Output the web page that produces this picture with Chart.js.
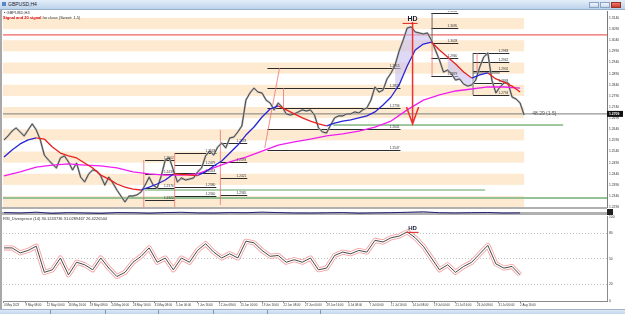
<!DOCTYPE html>
<html>
<head>
<meta charset="utf-8">
<title>GBPUSD,H4</title>
<script src="https://cdn.jsdelivr.net/npm/chart.js@4.4.1/dist/chart.umd.min.js"></script>
<style>
  html, body { margin: 0; padding: 0; }
  body { width: 625px; height: 314px; position: relative; overflow: hidden; background: #fff; font-family: "Liberation Sans", Arial, sans-serif; }
  canvas { position: absolute; left: 0; }
  #titlebar { position: absolute; left: 0; top: 0; width: 625px; height: 9px; background: linear-gradient(#e4eef9, #bcd2ea); border-bottom: 1px solid #98b0cf; }
  #titlebar i { position: absolute; left: 2px; top: 2px; width: 4px; height: 4px; background: #5b86c5; }
  #titlebar span { position: absolute; left: 8px; top: 1px; font-size: 5px; color: #223; }
  .btn { position: absolute; top: 2px; width: 10px; height: 6px; border: 1px solid #8aa3c4; box-sizing: border-box; background: linear-gradient(#f2f6fb, #c8d8ec); }
  #leftEdge { position: absolute; left: 0; top: 10px; width: 2px; height: 299px; background: #a8a8a8; }
  #miniPane { position: absolute; left: 0; top: 207px; width: 607px; height: 8px; box-sizing: border-box; border-top: 2px solid #b0b0b0; border-bottom: 3px solid #b0b0b0; background: #fff; }
  #miniBox { position: absolute; left: 607px; top: 209px; width: 6px; height: 6px; background: #222; }
  #bottombar { position: absolute; left: 0; top: 309px; width: 625px; height: 5px; background: linear-gradient(#dde9f6, #c2d5eb); border-top: 1px solid #9fb3cc; box-sizing: border-box; }
  #bottombar b { position: absolute; top: 0; width: 1px; height: 4px; background: #7f95b3; }
  .lbl { position: absolute; white-space: nowrap; line-height: 1; }
</style>
</head>
<body>
<div id="titlebar"><i></i><span>GBPUSD,H4</span>
  <div class="btn" style="left:589px"></div>
  <div class="btn" style="left:600px"></div>
  <div class="btn" style="left:611px;background:linear-gradient(#f07a6a,#c83a2a);border-color:#9a3326"></div>
</div>
<canvas id="mainChart" width="625" height="198" style="top:10px"></canvas>
<div id="miniPane"></div>
<div id="miniBox"></div>
<canvas id="miniChart" width="625" height="8" style="top:207px"></canvas>
<canvas id="rsiChart" width="625" height="96" style="top:214px"></canvas>
<div id="leftEdge"></div>
<div class="lbl" style="left:4px;top:11px;font-size:4px;color:#333">&#9642; GBPUSD,H4</div>
<div class="lbl" style="left:3px;top:16px;font-size:4px;color:#333"><span style="color:#d40000;font-weight:bold">Signal and 20 signal</span> for close (Sweet: 1.5)</div>
<div class="lbl" style="left:3px;top:217px;font-size:4px;color:#333">RSI_Divergence (14) 30.1243736 31.0289467 26.4226504</div>
<div id="bottombar"><b style="left:50px"></b><b style="left:105px"></b><b style="left:158px"></b><b style="left:213px"></b><b style="left:267px"></b><b style="left:320px"></b></div>

<script>
// 時間軸ラベル（16本ごと）
const xTickLabels = ['4 May 2023', '9 May 08:00', '12 May 00:00', '16 May 16:00', '19 May 08:00',
  '24 May 00:00', '26 May 16:00', '31 May 08:00', '5 Jun 00:00', '7 Jun 16:00', '12 Jun 08:00',
  '15 Jun 00:00', '19 Jun 16:00', '22 Jun 08:00', '27 Jun 00:00', '29 Jun 16:00', '4 Jul 08:00',
  '7 Jul 00:00', '11 Jul 16:00', '14 Jul 08:00', '19 Jul 00:00', '21 Jul 16:00', '26 Jul 08:00',
  '31 Jul 00:00', '2 Aug 16:00'];
const X_TICK_STEP = 16; // bars between time labels

// 価格軸ラベル
const priceTicks = [1.3140, 1.3090, 1.3040, 1.2990, 1.2940, 1.2890, 1.2840, 1.2790, 1.2740,
  1.2690, 1.2640, 1.2590, 1.2540, 1.2490, 1.2440, 1.2390, 1.2340, 1.2290];

// 終値（3本ごと）
const PRICE_STEP = 3;
const priceValues = [
  1.2592, 1.2610, 1.2632, 1.2646, 1.2628, 1.2610, 1.2637, 1.2664, 1.2637, 1.2592,
  1.2524, 1.2502, 1.2484, 1.2466, 1.2511, 1.2520, 1.2493, 1.2457, 1.2488, 1.2425,
  1.2403, 1.2439, 1.2457, 1.2452, 1.2430, 1.2389, 1.2425, 1.2398, 1.2367, 1.2340,
  1.2313, 1.2340, 1.2340, 1.2345, 1.2358, 1.2389, 1.2425, 1.2389, 1.2376, 1.2430,
  1.2502, 1.2511, 1.2457, 1.2403, 1.2421, 1.2412, 1.2416, 1.2421, 1.2448, 1.2466,
  1.2520, 1.2542, 1.2524, 1.2560, 1.2578, 1.2556, 1.2601, 1.2605, 1.2628, 1.2655,
  1.2771, 1.2803, 1.2825, 1.2807, 1.2803, 1.2771, 1.2758, 1.2727, 1.2758, 1.2740,
  1.2709, 1.2704, 1.2709, 1.2718, 1.2727, 1.2722, 1.2727, 1.2704, 1.2646, 1.2628,
  1.2623, 1.2659, 1.2691, 1.2700, 1.2700, 1.2709, 1.2709, 1.2718, 1.2713, 1.2727,
  1.2736, 1.2771, 1.2830, 1.2807, 1.2816, 1.2866, 1.2893, 1.2929, 1.2992, 1.3041,
  1.3095, 1.3100, 1.3077, 1.3073, 1.3068, 1.3073, 1.3041, 1.2996, 1.2951, 1.2897,
  1.2906, 1.2888, 1.2861, 1.2866, 1.2843, 1.2834, 1.2839, 1.2861, 1.2920, 1.2965,
  1.2983, 1.2861, 1.2803, 1.2830, 1.2848, 1.2848, 1.2785, 1.2776, 1.2758, 1.2704];

// 短期MA（6本ごと）上昇=青 下降=赤
const MA_STEP = 6;
const maFastValues = [
  1.2515, 1.2547, 1.2574, 1.2592, 1.2601, 1.2596, 1.2560, 1.2533, 1.2520, 1.2511,
  1.2488, 1.2466, 1.2434, 1.2416, 1.2394, 1.2380, 1.2371, 1.2367, 1.2380, 1.2394,
  1.2412, 1.2439, 1.2437, 1.2434, 1.2432, 1.2448, 1.2475, 1.2497, 1.2533, 1.2569,
  1.2614, 1.2650, 1.2695, 1.2731, 1.2745, 1.2727, 1.2709, 1.2691, 1.2677, 1.2664,
  1.2655, 1.2668, 1.2677, 1.2682, 1.2691, 1.2700, 1.2718, 1.2749, 1.2785, 1.2839,
  1.2924, 1.2996, 1.3023, 1.3032, 1.2996, 1.2965, 1.2933, 1.2897, 1.2870, 1.2884,
  1.2893, 1.2866, 1.2852, 1.2834, 1.2807];

// 長期MA（12本ごと）
const SLOW_STEP = 12;
const maSlowValues = [
  1.2430, 1.2448, 1.2470, 1.2479, 1.2484, 1.2479, 1.2475, 1.2466, 1.2448, 1.2439,
  1.2434, 1.2434, 1.2439, 1.2466, 1.2493, 1.2515, 1.2542, 1.2569, 1.2583, 1.2596,
  1.2610, 1.2619, 1.2632, 1.2650, 1.2677, 1.2727, 1.2771, 1.2794, 1.2812, 1.2821,
  1.2830, 1.2830, 1.2825];

// RSI（6本ごと）
const RSI_STEP = 6;
const rsiValues = [
  63, 63, 57, 60, 65, 34, 37, 51, 31, 46, 43, 37, 51, 39, 29, 34, 46, 53, 63, 46,
  51, 37, 51, 46, 60, 68, 58, 51, 56, 51, 71, 69, 60, 53, 54, 46, 49, 46, 51, 37,
  39, 54, 58, 56, 60, 58, 72, 70, 75, 77, 82, 75, 65, 51, 37, 43, 34, 41, 46, 56,
  66, 44, 39, 41, 31];
const rsiTicks = [0, 20, 50, 80, 100];
const rsiLevels = [20, 50, 80];

// 小さいサブウィンドウ（12本ごと）
const MINI_STEP = 12;
const miniValues = [3, 2.5, 3.5, 2, 3, 2.5, 2, 3, 2.8, 2.2, 3, 3.4, 2.6, 2.4, 3, 2.8, 3.6,
  3, 2.5, 2.4, 2.7, 3, 2.2, 2.6, 2.9, 3.4, 4, 2.8, 2.5, 2.9, 3.1, 2.4, 2.6];

const lastPrice = 1.2709;
const stripeEndBar = 387;
const divergenceZones = [[97, 106], [110, 117]]; // price sample index ranges

// フィボ水平線 [開始バー, 終了バー, 価格]
const fibLevels = [
  [105, 127, 1.2502], [105, 127, 1.2439], [105, 127, 1.2376], [105, 127, 1.2322],
  [127, 158, 1.2533], [127, 158, 1.2479], [127, 158, 1.2443], [127, 158, 1.2380], [127, 158, 1.2340],
  [161, 181, 1.2578], [161, 181, 1.2493], [161, 181, 1.2421], [161, 181, 1.2345],
  [196, 295, 1.2915], [196, 295, 1.2825], [196, 295, 1.2736], [196, 295, 1.2641], [196, 295, 1.2547],
  [318, 338, 1.3162], [318, 338, 1.3095], [318, 338, 1.3028], [318, 338, 1.2960], [318, 338, 1.2879],
  [349, 376, 1.2983], [349, 376, 1.2942], [349, 376, 1.2902], [349, 376, 1.2848], [349, 376, 1.2794]
];
// 線分 [バー1, 価格1, バー2, 価格2]
const redSegments = [
  [104, 1.2502, 104, 1.2280], [127, 1.2533, 127, 1.2280], [161, 1.2637, 161, 1.2300],
  [194, 1.2556, 205, 1.2915], [208, 1.2825, 208, 1.2727],
  [318.5, 1.3028, 318.5, 1.2879], [352, 1.2983, 352, 1.2893]
];
const graySegments = [
  [318.5, 1.3162, 318.5, 1.3028], [349, 1.2983, 349, 1.2794], [349, 1.2893, 369, 1.2893]
];
// 水平線 [開始バー, 終了バー, 価格, 色, 太さ]
const hLines = [
  [-1, 449, 1.3064, '#ec3b3b', 1],
  [-1, 449, lastPrice, '#7c7c7c', 1],
  [-1, 449, 1.2331, '#94c294', 2],
  [105, 358, 1.2367, '#94c294', 1.5],
  [245, 416, 1.2659, '#3f8f3f', 1]
];
// 下向き矢印
const arrowBar = 304, arrowTop = 1.3122, arrowBottom = 1.2664, arrowWing = 1.2740;
const hdBar = 304, hdPrice = 1.3118, hdRsi = 82;

// 軸の範囲
const BAR_MIN = -0.744, BAR_MAX = 448.66;
const PRICE_MIN = 1.22883, PRICE_MAX = 1.31715;

const FONT = 'Liberation Sans';
const MA_UP = '#2626d8', MA_DOWN = '#e82222';
const PURPLE = 'rgba(200,192,240,0.6)';

Chart.defaults.font.family = FONT;

const toXY = (arr, step) => arr.map((v, i) => ({ x: i * step, y: v }));
const pricePts = toXY(priceValues, PRICE_STEP);

const commonOpts = {
  responsive: false,
  animation: false,
  devicePixelRatio: 1,
  events: [],
  plugins: { legend: { display: false }, tooltip: { enabled: false } },
  elements: { point: { radius: 0 }, line: { tension: 0, borderJoinStyle: 'round' } }
};

// チャート上の描画オブジェクト
const mainDecor = {
  id: 'mainDecor',
  beforeDatasetsDraw(chart) {
    const { ctx, chartArea: a, scales: { x, y } } = chart;
    ctx.save();
    ctx.beginPath();
    ctx.rect(a.left, a.top, a.right - a.left, a.bottom - a.top);
    ctx.clip();
    // 帯
    ctx.fillStyle = '#fdead0';
    const xe = x.getPixelForValue(stripeEndBar);
    for (let i = 0; i + 1 < priceTicks.length; i += 2) {
      const y1 = y.getPixelForValue(priceTicks[i]);
      const y2 = y.getPixelForValue(priceTicks[i + 1]);
      ctx.fillRect(a.left, y1, xe - a.left, y2 - y1);
    }
    hLines.forEach(([b1, b2, p, color, w]) => {
      const yy = y.getPixelForValue(p);
      ctx.strokeStyle = color;
      ctx.lineWidth = w;
      ctx.beginPath();
      ctx.moveTo(x.getPixelForValue(b1), yy);
      ctx.lineTo(x.getPixelForValue(b2), yy);
      ctx.stroke();
    });
    ctx.strokeStyle = '#2b2b2b';
    ctx.lineWidth = 1;
    fibLevels.forEach(([b1, b2, p]) => {
      const yy = Math.round(y.getPixelForValue(p)) + 0.5;
      ctx.beginPath();
      ctx.moveTo(x.getPixelForValue(b1), yy);
      ctx.lineTo(x.getPixelForValue(b2), yy);
      ctx.stroke();
    });
    const seg = (list, color) => {
      ctx.strokeStyle = color;
      list.forEach(([b1, p1, b2, p2]) => {
        ctx.beginPath();
        ctx.moveTo(x.getPixelForValue(b1), y.getPixelForValue(p1));
        ctx.lineTo(x.getPixelForValue(b2), y.getPixelForValue(p2));
        ctx.stroke();
      });
    };
    ctx.lineWidth = 0.8;
    seg(redSegments, '#f07070');
    ctx.lineWidth = 1;
    seg(graySegments, '#6a6a6a');
    ctx.restore();
  },
  afterDatasetsDraw(chart) {
    const { ctx, chartArea: a, scales: { x, y } } = chart;
    ctx.save();
    ctx.beginPath();
    ctx.rect(a.left, a.top, a.right - a.left, a.bottom - a.top);
    ctx.clip();
    // ラベル
    ctx.font = '3.2px ' + FONT;
    ctx.fillStyle = '#333';
    ctx.textAlign = 'right';
    ctx.textBaseline = 'bottom';
    fibLevels.forEach(([b1, b2, p]) => {
      ctx.fillText(p.toFixed(4), x.getPixelForValue(b2) - 1, y.getPixelForValue(p) - 0.3);
    });
    // 矢印
    const ax = x.getPixelForValue(arrowBar);
    ctx.strokeStyle = '#f03030';
    ctx.lineWidth = 1.5;
    ctx.beginPath();
    ctx.moveTo(ax, y.getPixelForValue(arrowTop));
    ctx.lineTo(ax, y.getPixelForValue(arrowBottom));
    ctx.moveTo(x.getPixelForValue(arrowBar - 4.5), y.getPixelForValue(arrowWing));
    ctx.lineTo(ax, y.getPixelForValue(arrowBottom));
    ctx.lineTo(x.getPixelForValue(arrowBar + 4.5), y.getPixelForValue(arrowWing));
    ctx.stroke();
    // HD
    const hx = x.getPixelForValue(hdBar), hy = y.getPixelForValue(hdPrice);
    ctx.strokeStyle = '#e02020';
    ctx.lineWidth = 1;
    ctx.beginPath();
    ctx.moveTo(hx - 10, hy + 0.5);
    ctx.lineTo(hx + 5, hy + 0.5);
    ctx.stroke();
    ctx.font = 'bold 7px ' + FONT;
    ctx.fillStyle = '#1c1c3c';
    ctx.textAlign = 'center';
    ctx.textBaseline = 'bottom';
    ctx.fillText('HD', hx, hy);
    // 48.29 (1.5)
    ctx.font = '5px ' + FONT;
    ctx.fillStyle = '#555';
    ctx.textAlign = 'left';
    ctx.textBaseline = 'middle';
    ctx.fillText('48.29 (1.5)', x.getPixelForValue(393), y.getPixelForValue(lastPrice));
    ctx.restore();
  },
  afterDraw(chart) {
    const { ctx, chartArea: a, scales: { y } } = chart;
    const yy = y.getPixelForValue(lastPrice);
    ctx.save();
    ctx.fillStyle = '#111';
    ctx.fillRect(a.right, yy - 3, 16, 6);
    ctx.fillStyle = '#fff';
    ctx.font = 'bold 3.4px ' + FONT;
    ctx.textBaseline = 'middle';
    ctx.fillText(lastPrice.toFixed(4), a.right + 2, yy);
    ctx.restore();
  }
};

// メインチャート
new Chart(document.getElementById('mainChart'), {
  type: 'line',
  data: {
    datasets: [
      {
        label: 'MA fast', data: toXY(maFastValues, MA_STEP), borderColor: MA_UP, borderWidth: 1.3, order: 0,
        segment: { borderColor: c => (c.p1.parsed.y < c.p0.parsed.y ? MA_DOWN : MA_UP) }
      },
      { label: 'MA slow', data: toXY(maSlowValues, SLOW_STEP), borderColor: '#f01ef0', borderWidth: 1.3, order: 0 },
      { label: 'price', data: pricePts, borderColor: '#404040', borderWidth: 0.9, order: 1 },
      { label: 'price bars', data: pricePts, borderColor: '#b4b4b4', borderWidth: 2, order: 2 },
      {
        label: 'divergence', order: 3, borderWidth: 0, spanGaps: false,
        data: pricePts.map((p, i) => ({
          x: p.x,
          y: divergenceZones.some(([s, e]) => i >= s && i <= e) ? p.y : null
        })),
        fill: { target: 0, above: PURPLE, below: PURPLE }
      }
    ]
  },
  options: {
    ...commonOpts,
    layout: { padding: { left: 3, top: 1, right: 0, bottom: 0.5 } },
    scales: {
      x: { type: 'linear', min: BAR_MIN, max: BAR_MAX, display: false },
      y: {
        type: 'linear', position: 'right', min: PRICE_MIN, max: PRICE_MAX,
        afterBuildTicks: s => { s.ticks = priceTicks.map(v => ({ value: v })); },
        afterFit: s => { s.width = 18; s.paddingTop = 0; s.paddingBottom = 0; },
        ticks: { padding: 2, color: '#333', font: { size: 3.3 }, callback: v => v.toFixed(4) },
        grid: { display: false, drawTicks: false },
        border: { display: true, color: '#7a7a7a' }
      }
    }
  },
  plugins: [mainDecor]
});

// 小さいサブウィンドウ
new Chart(document.getElementById('miniChart'), {
  type: 'line',
  data: { datasets: [{ data: toXY(miniValues, MINI_STEP), borderColor: '#22227a', borderWidth: 1 }] },
  options: {
    ...commonOpts,
    layout: { padding: { left: 3, right: 18, top: 0, bottom: 0 } },
    scales: {
      x: { type: 'linear', min: BAR_MIN, max: BAR_MAX, display: false },
      y: { min: 0, max: 10, display: false }
    }
  }
});

// RSIのHD表示
const rsiDecor = {
  id: 'rsiDecor',
  afterDatasetsDraw(chart) {
    const { ctx, scales: { x, y } } = chart;
    const hx = x.getPixelForValue(hdBar), hy = y.getPixelForValue(hdRsi);
    ctx.save();
    ctx.strokeStyle = '#e02020';
    ctx.lineWidth = 1;
    ctx.beginPath();
    ctx.moveTo(hx - 6, hy + 0.5);
    ctx.lineTo(hx + 6, hy + 0.5);
    ctx.stroke();
    ctx.font = 'bold 6px ' + FONT;
    ctx.fillStyle = '#1c1c3c';
    ctx.textAlign = 'center';
    ctx.textBaseline = 'bottom';
    ctx.fillText('HD', hx, hy - 0.5);
    ctx.restore();
  }
};

const rsiPts = toXY(rsiValues, RSI_STEP);
new Chart(document.getElementById('rsiChart'), {
  type: 'line',
  data: {
    datasets: [
      { label: 'RSI', data: rsiPts, borderColor: '#333', borderWidth: 0.9, order: 1 },
      { label: 'gap', data: rsiPts, borderColor: '#fff', borderWidth: 3.4, order: 2 },
      { label: 'band', data: rsiPts, borderColor: '#f49a9a', borderWidth: 5, order: 3 }
    ]
  },
  options: {
    ...commonOpts,
    layout: { padding: { left: 3, top: 2.7, right: 0, bottom: 0 } },
    scales: {
      x: {
        type: 'linear', min: BAR_MIN, max: BAR_MAX, position: 'bottom',
        afterBuildTicks: s => { s.ticks = xTickLabels.map((_, i) => ({ value: i * X_TICK_STEP })); },
        afterFit: s => { s.height = 9; s.paddingLeft = 0; s.paddingRight = 0; },
        ticks: {
          autoSkip: false, maxRotation: 0, minRotation: 0, align: 'start', padding: 0.5,
          color: '#333', font: { size: 2.9 }, callback: (v, i) => xTickLabels[i]
        },
        grid: { drawOnChartArea: false, drawTicks: true, tickLength: 2, color: '#8a8a8a' },
        border: { display: true, color: '#8a8a8a' }
      },
      y: {
        type: 'linear', position: 'right', min: 0, max: 100,
        afterBuildTicks: s => { s.ticks = rsiTicks.map(v => ({ value: v })); },
        afterFit: s => { s.width = 18; s.paddingTop = 0; s.paddingBottom = 0; },
        ticks: { padding: 2, color: '#333', font: { size: 3.3 } },
        grid: {
          drawTicks: false,
          color: c => (rsiLevels.includes(c.tick.value) ? '#c2c2c2' : 'rgba(0,0,0,0)')
        },
        border: { display: true, color: '#8a8a8a', dash: [1, 2] }
      }
    }
  },
  plugins: [rsiDecor]
});
</script>
</body>
</html>
